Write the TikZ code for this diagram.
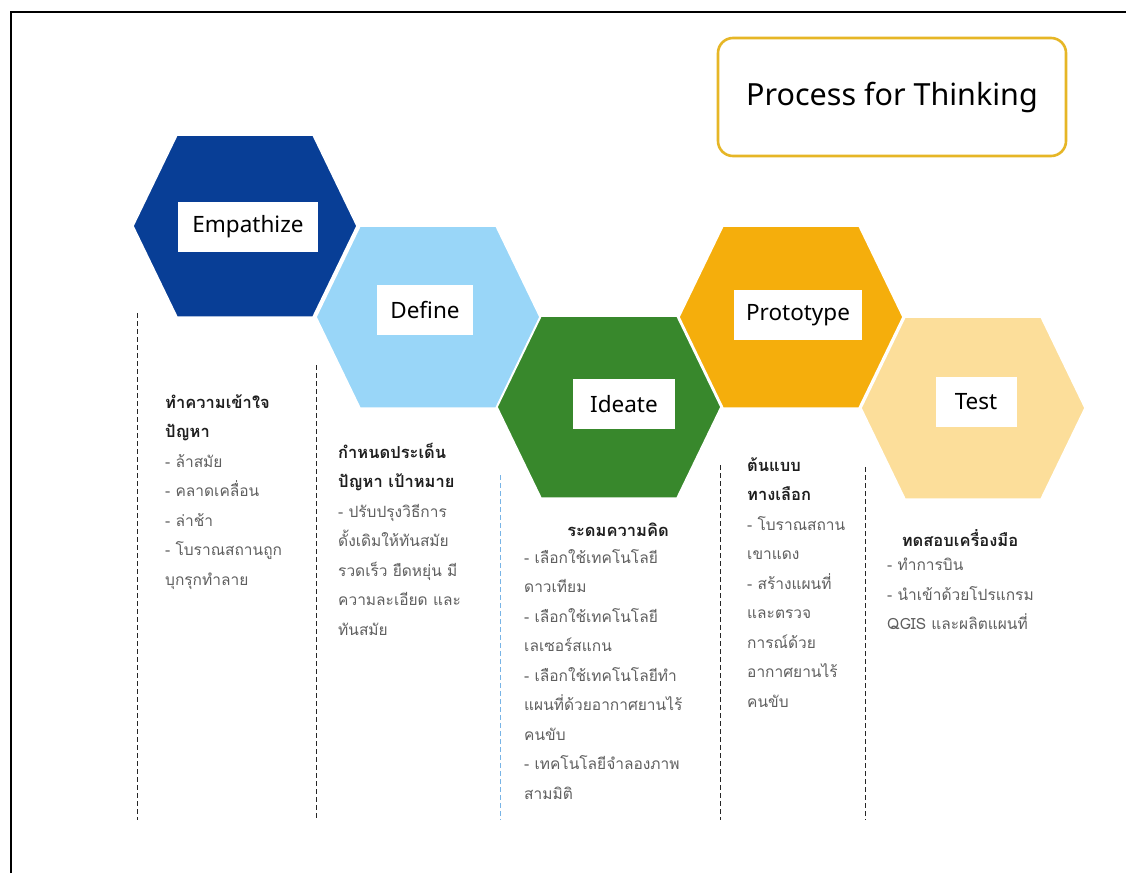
\documentclass[tikz,border=0pt]{standalone}
\usepackage{fontspec}
\newfontfamily\thai[Script=Thai]{Loma}
\newfontfamily\lat{Noto Sans}
\definecolor{empc}{RGB}{8,62,150}
\definecolor{defc}{RGB}{153,214,248}
\definecolor{idec}{RGB}{56,136,44}
\definecolor{proc}{RGB}{245,174,12}
\definecolor{tesc}{RGB}{252,222,154}
\definecolor{goldc}{RGB}{230,182,38}
\definecolor{bodyc}{RGB}{95,95,95}
\definecolor{headc}{RGB}{30,30,30}
\definecolor{sepblue}{RGB}{120,180,230}
\newcommand{\hexshape}[3]{\fill[#3,draw=white,line width=1.5] (#1-112,#2) -- (#1-68,#2-91) -- (#1+68,#2-91) -- (#1+112,#2) -- (#1+68,#2+91) -- (#1-68,#2+91) -- cycle;}
\tikzset{
  labelbox/.style={fill=white,inner sep=0pt,minimum height=50,font=\lat\fontsize{22.5}{26}\selectfont,text=black},
  block/.style={anchor=north west,inner sep=0pt,align=left,text=bodyc,font=\thai\fontsize{15.5}{29.5}\selectfont},
  headline/.style={inner sep=0pt,text=headc,font=\thai\bfseries\fontsize{16.5}{29.5}\selectfont},
  sep/.style={dashed,dash pattern=on 5pt off 3pt,line width=0.9pt,black!85},
}
\begin{document}
\begin{tikzpicture}[x=1pt,y=-1pt]
\useasboundingbox (0,0) rectangle (1126,873);
\fill[white] (0,0) rectangle (1126,873);
\draw[line width=1.6pt] (11,873) -- (11,12) -- (1126,12);
% title
\node[draw=goldc,line width=2.6pt,rounded corners=15pt,minimum width=348,minimum height=118,inner sep=0pt,font=\lat\fontsize{30.5}{34}\selectfont] (title) at (892,97) {Process for Thinking};
% hexagons
\hexshape{245}{226}{empc}
\hexshape{428}{317}{defc}
\hexshape{609}{407}{idec}
\hexshape{791}{317}{proc}
\hexshape{973}{408}{tesc}
% labels
\node[labelbox,minimum width=140] (emp) at (248,227) {Empathize};
\node[labelbox,minimum width=96] (def) at (425,310) {Define};
\node[labelbox,minimum width=102] (ide) at (624,404) {Ideate};
\node[labelbox,minimum width=128] (pro) at (798,315) {Prototype};
\node[labelbox,minimum width=81] (tes) at (976,402) {Test};
% dashed separators
\coordinate (d1t) at (137,313); \coordinate (d1b) at (137,820);
\coordinate (d2t) at (316,365); \coordinate (d2b) at (316,820);
\coordinate (d3t) at (500,475); \coordinate (d3b) at (500,820);
\coordinate (d4t) at (720,465); \coordinate (d4b) at (720,820);
\coordinate (d5t) at (865,467); \coordinate (d5b) at (865,820);
\draw[sep] (d1t) -- (d1b);
\draw[sep] (d2t) -- (d2b);
\draw[sep,sepblue] (d3t) -- (d3b);
\draw[sep] (d4t) -- (d4b);
\draw[sep] (d5t) -- (d5b);
% text blocks
\node[block] (t1) at (165,394) {{\color{headc}\bfseries\fontsize{16.5}{29.5}\selectfont ทำความเข้าใจ}\\{\color{headc}\bfseries\fontsize{16.5}{29.5}\selectfont ปัญหา}\\- ล้าสมัย\\- คลาดเคลื่อน\\- ล่าช้า\\- โบราณสถานถูก\\บุกรุกทำลาย};
\node[block] (t2) at (338,443) {{\color{headc}\bfseries\fontsize{16.5}{29.5}\selectfont กำหนดประเด็น}\\{\color{headc}\bfseries\fontsize{16.5}{29.5}\selectfont ปัญหา เป้าหมาย}\\- ปรับปรุงวิธีการ\\ดั้งเดิมให้ทันสมัย\\รวดเร็ว ยืดหยุ่น มี\\ความละเอียด และ\\ทันสมัย};
\node[headline] (h3) at (618,530) {ระดมความคิด};
\node[block] (t3) at (524,549) {- เลือกใช้เทคโนโลยี\\ดาวเทียม\\- เลือกใช้เทคโนโลยี\\เลเซอร์สแกน\\- เลือกใช้เทคโนโลยีทำ\\แผนที่ด้วยอากาศยานไร้\\คนขับ\\- เทคโนโลยีจำลองภาพ\\สามมิติ};
\node[block] (t4) at (747,457) {{\color{headc}\bfseries\fontsize{16.5}{29.5}\selectfont ต้นแบบ}\\{\color{headc}\bfseries\fontsize{16.5}{29.5}\selectfont ทางเลือก}\\- โบราณสถาน\\เขาแดง\\- สร้างแผนที่\\และตรวจ\\การณ์ด้วย\\อากาศยานไร้\\คนขับ};
\node[headline] (h5) at (960,538) {ทดสอบเครื่องมือ};
\node[block] (t5) at (887,558) {- ทำการบิน\\- นำเข้าด้วยโปรแกรม\\QGIS และผลิตแผนที่};
\end{tikzpicture}
\end{document}
